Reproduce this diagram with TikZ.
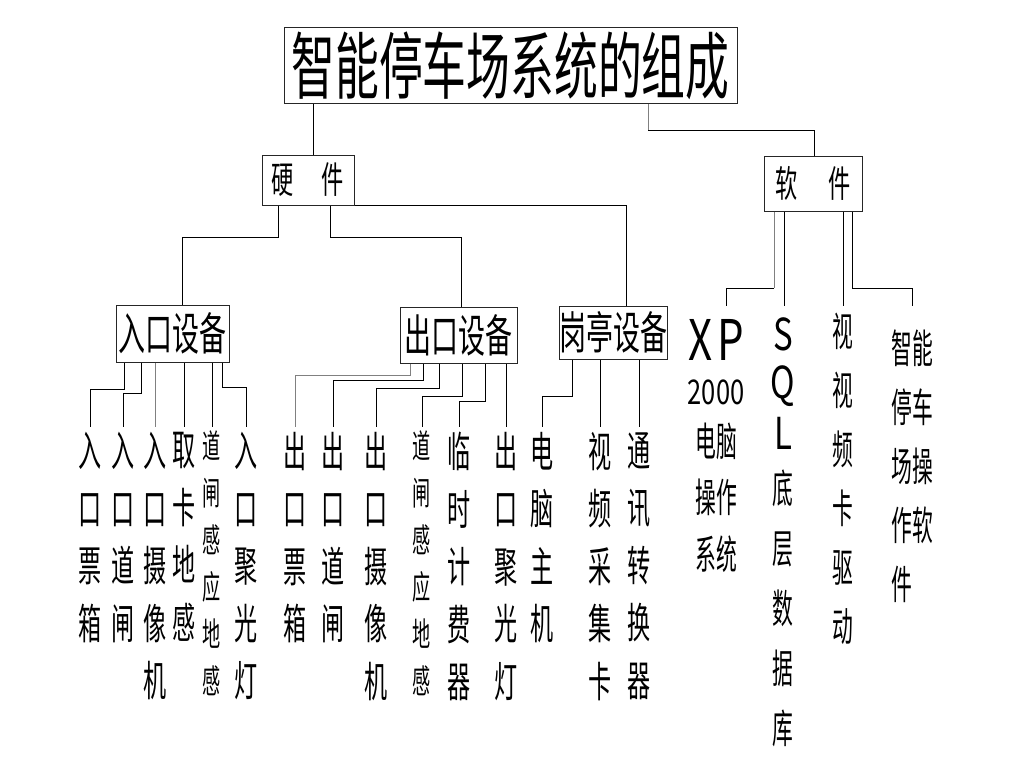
\documentclass[tikz,border=0pt]{standalone}
\usepackage{fontspec}
\newfontfamily\cjk[FakeStretch=0.6]{Noto Sans CJK SC}
\newfontfamily\cjkl[FakeStretch=0.55]{Noto Sans CJK SC}
\newfontfamily\cjkn[FakeStretch=0.52]{Noto Sans CJK SC}
\newfontfamily\latf[FakeStretch=0.75]{Noto Sans CJK SC}
\begin{document}
\begin{tikzpicture}[x=1pt,y=-1pt,
  box/.style={draw=black!85, line width=1pt, inner sep=0pt, rectangle, font=\cjk},
  conn/.style={line width=1pt, draw=black},
  gconn/.style={line width=1pt, draw=black!50},
  leaf/.style={anchor=north, inner xsep=0pt, inner ysep=5pt, align=center,
    font=\cjkl\fontsize{42}{57.5}\selectfont, execute at begin node={\vphantom{国}}},
  tleaf/.style={leaf, inner ysep=3pt, font=\cjkl\fontsize{33}{47}\selectfont},
  sleaf/.style={anchor=north, inner xsep=0pt, align=center,
    font=\cjkn\fontsize{40}{59}\selectfont}
]
\useasboundingbox[fill=white] (0,0) rectangle (1024,768);

% ---- boxes ----
\node[box, minimum width=453, minimum height=75, font=\cjk\fontsize{73}{73}\selectfont]
  (title) at (510.5,65.5) {智能停车场系统的组成};
\node[box, minimum width=92, minimum height=50, font=\cjk\fontsize{37}{37}\selectfont]
  (hw) at (308,180) {硬\hspace{28pt}件};
\node[box, minimum width=98, minimum height=55, font=\cjk\fontsize{37}{37}\selectfont]
  (sw) at (813,183.5) {软\hspace{31pt}件};
\node[box, minimum width=113, minimum height=57, font=\cjk\fontsize{45}{45}\selectfont]
  (in) at (172.5,333.5) {入口设备};
\node[box, minimum width=117, minimum height=56, font=\cjk\fontsize{45}{45}\selectfont]
  (out) at (458.5,335) {出口设备};
\node[box, minimum width=108, minimum height=53, font=\cjk\fontsize{45}{45}\selectfont]
  (booth) at (613,332.5) {岗亭设备};

% ---- hardware leaves ----
\node[leaf] (e1) at (90,427) {入\\口\\票\\箱};
\node[leaf] (e2) at (123,427) {入\\口\\道\\闸};
\node[leaf] (e3) at (155,427) {入\\口\\摄\\像\\机};
\node[leaf] (e4) at (184,427) {取\\卡\\地\\感};
\node[tleaf] (e5) at (212,427) {道\\闸\\感\\应\\地\\感};
\node[leaf] (e6) at (246,427) {入\\口\\聚\\光\\灯};

\node[leaf] (x1) at (295,427) {出\\口\\票\\箱};
\node[leaf] (x2) at (333,427) {出\\口\\道\\闸};
\node[leaf] (x3) at (376,427) {出\\口\\摄\\像\\机};
\node[tleaf] (x4) at (422,427) {道\\闸\\感\\应\\地\\感};
\node[leaf] (x5) at (459,427) {临\\时\\计\\费\\器};
\node[leaf] (x6) at (506,427) {出\\口\\聚\\光\\灯};

\node[leaf] (b1) at (542,427) {电\\脑\\主\\机};
\node[leaf] (b2) at (600,427) {视\\频\\采\\集\\卡};
\node[leaf] (b3) at (639,427) {通\\讯\\转\\换\\器};

% ---- software leaves ----
\node[sleaf, inner ysep=13pt, font=\cjkn\fontsize{40}{57}\selectfont] (s1) at (716,306)
  {{\latf\fontsize{56}{56}\selectfont X\hspace{5pt}P}\\[-13pt]{\latf\fontsize{34}{34}\selectfont 2000}\\[-5pt]电脑\\[-1pt]操作\\系统};
\node[sleaf, inner ysep=11pt, font=\cjkn\fontsize{40}{60}\selectfont] (s2) at (783,306)
  {{\latf\fontsize{44}{44}\selectfont S}\\[-12pt]{\latf\fontsize{44}{44}\selectfont Q}\\[-9pt]{\latf\fontsize{44}{44}\selectfont L}\\[-6pt]底\\层\\数\\据\\库};
\node[sleaf, inner ysep=7pt, execute at begin node={\vphantom{国}}] (s3) at (843,306)
  {视\\视\\频\\卡\\驱\\动};
\node[sleaf, inner ysep=24pt, align=left, execute at begin node={\vphantom{国}}] (s4) at (912,306)
  {智能\\停车\\场操\\作软\\件};

% ---- connectors: top levels ----
\draw[conn] (313,0 |- title.south) -- (313,0 |- hw.north);
\draw[gconn] (648,0 |- title.south) -- (648,130);
\draw[conn] (648,130) -| (814,0 |- sw.north);
\draw[conn] (278,0 |- hw.south) -- (278,237) -| (182,0 |- in.north);
\draw[conn] (330,0 |- hw.south) -- (330,237) -| (461,0 |- out.north);
\draw[conn] (hw.south east) -- (626,0 |- hw.south) -- (626,0 |- booth.north);

% ---- software ----
\draw[gconn] (774,0 |- sw.south) -- (774,288);
\draw[conn] (774,288) -| (726,0 |- s1.north);
\draw[conn] (784,0 |- sw.south) -- (784,0 |- s2.north);
\draw[conn] (843,0 |- sw.south) -- (s3.north);
\draw[conn] (852,0 |- sw.south) -- (852,288) -| (s4.north);

% ---- entrance ----
\draw[conn] (124,0 |- in.south) -- (124,389) -| (e1.north);
\draw[conn] (141,0 |- in.south) -- (141,393) -| (e2.north);
\draw[gconn] (155,0 |- in.south) -- (e3.north);
\draw[conn] (184,0 |- in.south) -- (e4.north);
\draw[conn] (212,0 |- in.south) -- (e5.north);
\draw[conn] (222,0 |- in.south) -- (222,387) -| (e6.north);

% ---- exit ----
\draw[gconn] (410,0 |- out.south) -- (410,375) -| (x1.north);
\draw[conn] (423,0 |- out.south) -- (423,380) -| (x2.north);
\draw[conn] (439,0 |- out.south) -- (439,388) -| (x3.north);
\draw[conn] (462,0 |- out.south) -- (462,396) -| (x4.north);
\draw[conn] (485,0 |- out.south) -- (485,401) -| (x5.north);
\draw[conn] (506,0 |- out.south) -- (x6.north);

% ---- booth ----
\draw[conn] (572,0 |- booth.south) -- (572,396) -| (b1.north);
\draw[conn] (600,0 |- booth.south) -- (b2.north);
\draw[conn] (639,0 |- booth.south) -- (b3.north);
\end{tikzpicture}
\end{document}
